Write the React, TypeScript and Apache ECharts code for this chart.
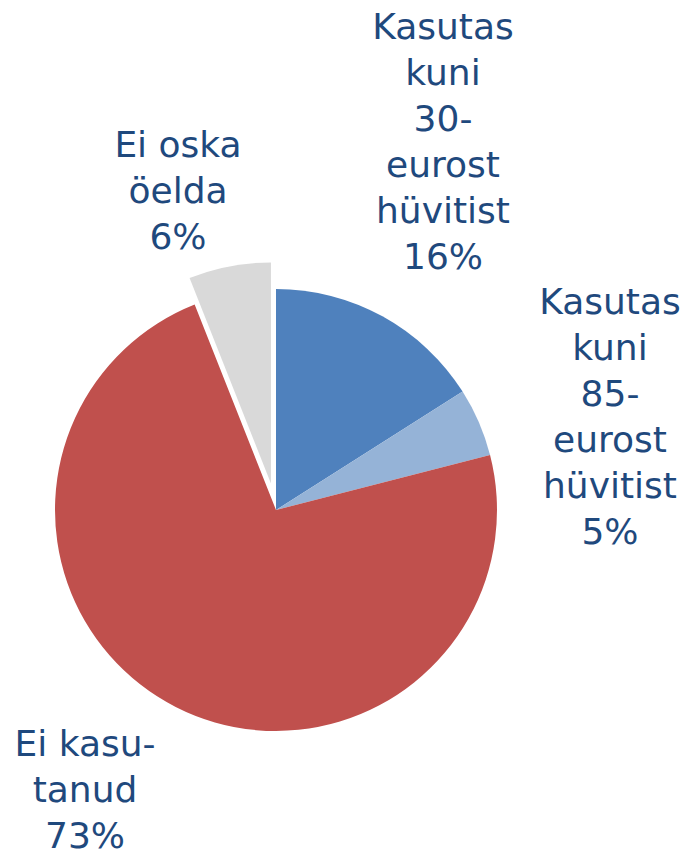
import React, { useEffect, useRef } from "react";
import * as echarts from "echarts";

const categories = [
  "Kasutas\nkuni\n30-\neurost\nhüvitist",
  "Kasutas\nkuni\n85-\neurost\nhüvitist",
  "Ei kasu-\ntanud",
  "Ei oska\nöelda",
];
const values = [16, 5, 73, 6];
const colors = ["#4F81BD", "#95B3D7", "#C0504D", "#D9D9D9"];
const exploded = [false, false, false, true];
const labelPos = [
  [443, 141],
  [610, 416],
  [85, 789],
  [178, 190],
];

export default function App() {
  const ref = useRef<HTMLDivElement>(null);
  useEffect(() => {
    if (!ref.current) return;
    const chart = echarts.init(ref.current, undefined, { renderer: "svg" });
    chart.setOption({
      animation: false,
      backgroundColor: "#ffffff",
      series: [
        {
          type: "pie",
          center: [276, 510],
          radius: [0, 221],
          startAngle: 90,
          clockwise: true,
          selectedMode: "multiple",
          selectedOffset: 27,
          emphasis: { disabled: true },
          itemStyle: { borderWidth: 0 },
          label: { show: false },
          labelLine: { show: false },
          data: categories.map((c, i) => ({
            name: c,
            value: values[i],
            selected: exploded[i],
            itemStyle: { color: colors[i] },
            select: { itemStyle: { color: colors[i] } },
          })),
        },
        {
          type: "pie",
          center: [276, 510],
          radius: [0, 221],
          startAngle: 90,
          clockwise: true,
          silent: true,
          selectedMode: false,
          avoidLabelOverlap: false,
          emphasis: { disabled: true },
          itemStyle: { color: "rgba(0,0,0,0)", borderWidth: 0 },
          label: {
            show: true,
            position: "outside",
            formatter: (p: any) => `${p.name}\n${p.value}%`,
            color: "#1F497D",
            fontFamily: "DejaVu Sans, Verdana, sans-serif",
            fontSize: 36,
            lineHeight: 46,
            align: "center",
          },
          labelLine: { show: false },
          labelLayout: (p: any) => ({
            x: labelPos[p.dataIndex][0],
            y: labelPos[p.dataIndex][1],
            align: "center",
            verticalAlign: "middle",
          }),
          data: categories.map((c, i) => ({ name: c, value: values[i] })),
        },
      ],
    });
    return () => chart.dispose();
  }, []);
  return (
    <div
      ref={ref}
      style={{ position: "fixed", left: 0, top: 0, width: 691, height: 852 }}
    />
  );
}
